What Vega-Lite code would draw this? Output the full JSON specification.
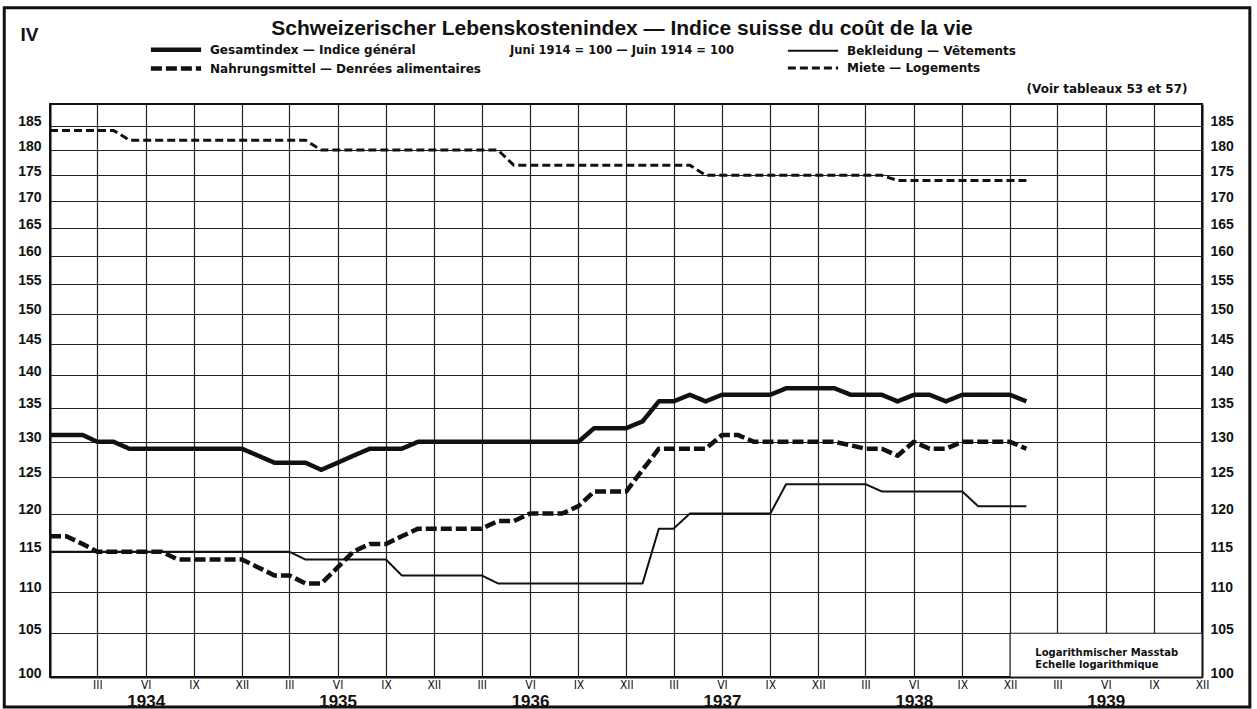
{
  "$schema": "https://vega.github.io/schema/vega-lite/v6.json",
  "width": 1152,
  "height": 573,
  "autosize": {"type": "none"},
  "padding": {"left": 50, "top": 104, "right": 55, "bottom": 32},
  "background": "white",
  "title": {
    "text": "Schweizerischer Lebenskostenindex — Indice suisse du coût de la vie",
    "subtitle": "Juni 1914 = 100 — Juin 1914 = 100\u00a0\u00a0\u00a0\u00a0\u00a0\u00a0",
    "anchor": "middle",
    "frame": "group",
    "orient": "top",
    "offset": -50,
    "dx": -4,
    "font": "Liberation Sans",
    "fontSize": 21,
    "fontWeight": "bold",
    "color": "#111",
    "subtitleFont": "DejaVu Sans",
    "subtitleFontSize": 11.5,
    "subtitleFontWeight": "bold",
    "subtitleColor": "#111",
    "subtitlePadding": 6
  },
  "config": {
    "view": {"stroke": "#111", "strokeWidth": 2},
    "axis": {"labelColor": "#111", "titleColor": "#111"}
  },
  "data": {
    "values": [
      {"date": "1933-12-01", "G": 131, "N": 117, "B": 115, "M": 184},
      {"date": "1934-01-01", "G": 131, "N": 117, "B": 115, "M": 184},
      {"date": "1934-02-01", "G": 131, "N": 116, "B": 115, "M": 184},
      {"date": "1934-03-01", "G": 130, "N": 115, "B": 115, "M": 184},
      {"date": "1934-04-01", "G": 130, "N": 115, "B": 115, "M": 184},
      {"date": "1934-05-01", "G": 129, "N": 115, "B": 115, "M": 182},
      {"date": "1934-06-01", "G": 129, "N": 115, "B": 115, "M": 182},
      {"date": "1934-07-01", "G": 129, "N": 115, "B": 115, "M": 182},
      {"date": "1934-08-01", "G": 129, "N": 114, "B": 115, "M": 182},
      {"date": "1934-09-01", "G": 129, "N": 114, "B": 115, "M": 182},
      {"date": "1934-10-01", "G": 129, "N": 114, "B": 115, "M": 182},
      {"date": "1934-11-01", "G": 129, "N": 114, "B": 115, "M": 182},
      {"date": "1934-12-01", "G": 129, "N": 114, "B": 115, "M": 182},
      {"date": "1935-01-01", "G": 128, "N": 113, "B": 115, "M": 182},
      {"date": "1935-02-01", "G": 127, "N": 112, "B": 115, "M": 182},
      {"date": "1935-03-01", "G": 127, "N": 112, "B": 115, "M": 182},
      {"date": "1935-04-01", "G": 127, "N": 111, "B": 114, "M": 182},
      {"date": "1935-05-01", "G": 126, "N": 111, "B": 114, "M": 180},
      {"date": "1935-06-01", "G": 127, "N": 113, "B": 114, "M": 180},
      {"date": "1935-07-01", "G": 128, "N": 115, "B": 114, "M": 180},
      {"date": "1935-08-01", "G": 129, "N": 116, "B": 114, "M": 180},
      {"date": "1935-09-01", "G": 129, "N": 116, "B": 114, "M": 180},
      {"date": "1935-10-01", "G": 129, "N": 117, "B": 112, "M": 180},
      {"date": "1935-11-01", "G": 130, "N": 118, "B": 112, "M": 180},
      {"date": "1935-12-01", "G": 130, "N": 118, "B": 112, "M": 180},
      {"date": "1936-01-01", "G": 130, "N": 118, "B": 112, "M": 180},
      {"date": "1936-02-01", "G": 130, "N": 118, "B": 112, "M": 180},
      {"date": "1936-03-01", "G": 130, "N": 118, "B": 112, "M": 180},
      {"date": "1936-04-01", "G": 130, "N": 119, "B": 111, "M": 180},
      {"date": "1936-05-01", "G": 130, "N": 119, "B": 111, "M": 177},
      {"date": "1936-06-01", "G": 130, "N": 120, "B": 111, "M": 177},
      {"date": "1936-07-01", "G": 130, "N": 120, "B": 111, "M": 177},
      {"date": "1936-08-01", "G": 130, "N": 120, "B": 111, "M": 177},
      {"date": "1936-09-01", "G": 130, "N": 121, "B": 111, "M": 177},
      {"date": "1936-10-01", "G": 132, "N": 123, "B": 111, "M": 177},
      {"date": "1936-11-01", "G": 132, "N": 123, "B": 111, "M": 177},
      {"date": "1936-12-01", "G": 132, "N": 123, "B": 111, "M": 177},
      {"date": "1937-01-01", "G": 133, "N": 126, "B": 111, "M": 177},
      {"date": "1937-02-01", "G": 136, "N": 129, "B": 118, "M": 177},
      {"date": "1937-03-01", "G": 136, "N": 129, "B": 118, "M": 177},
      {"date": "1937-04-01", "G": 137, "N": 129, "B": 120, "M": 177},
      {"date": "1937-05-01", "G": 136, "N": 129, "B": 120, "M": 175},
      {"date": "1937-06-01", "G": 137, "N": 131, "B": 120, "M": 175},
      {"date": "1937-07-01", "G": 137, "N": 131, "B": 120, "M": 175},
      {"date": "1937-08-01", "G": 137, "N": 130, "B": 120, "M": 175},
      {"date": "1937-09-01", "G": 137, "N": 130, "B": 120, "M": 175},
      {"date": "1937-10-01", "G": 138, "N": 130, "B": 124, "M": 175},
      {"date": "1937-11-01", "G": 138, "N": 130, "B": 124, "M": 175},
      {"date": "1937-12-01", "G": 138, "N": 130, "B": 124, "M": 175},
      {"date": "1938-01-01", "G": 138, "N": 130, "B": 124, "M": 175},
      {"date": "1938-02-01", "G": 137, "N": 129.5, "B": 124, "M": 175},
      {"date": "1938-03-01", "G": 137, "N": 129, "B": 124, "M": 175},
      {"date": "1938-04-01", "G": 137, "N": 129, "B": 123, "M": 175},
      {"date": "1938-05-01", "G": 136, "N": 128, "B": 123, "M": 174},
      {"date": "1938-06-01", "G": 137, "N": 130, "B": 123, "M": 174},
      {"date": "1938-07-01", "G": 137, "N": 129, "B": 123, "M": 174},
      {"date": "1938-08-01", "G": 136, "N": 129, "B": 123, "M": 174},
      {"date": "1938-09-01", "G": 137, "N": 130, "B": 123, "M": 174},
      {"date": "1938-10-01", "G": 137, "N": 130, "B": 121, "M": 174},
      {"date": "1938-11-01", "G": 137, "N": 130, "B": 121, "M": 174},
      {"date": "1938-12-01", "G": 137, "N": 130, "B": 121, "M": 174},
      {"date": "1939-01-01", "G": 136, "N": 129, "B": 121, "M": 174}
    ]
  },
  "layer": [
    {
      "data": {"values": [{}]},
      "mark": {"type": "rect", "fill": "white", "stroke": "#222", "strokeWidth": 1.2},
      "encoding": {
        "x": {
          "datum": {"year": 1938, "month": 12, "date": 1, "utc": true},
          "type": "temporal",
          "scale": {"type": "utc", "domain": [{"year": 1933, "month": 12, "date": 1, "utc": true}, {"year": 1939, "month": 12, "date": 1, "utc": true}]},
          "axis": {
            "orient": "bottom",
            "title": null,
            "values": [
              {"year": 1934, "month": 6, "date": 1, "utc": true},
              {"year": 1935, "month": 6, "date": 1, "utc": true},
              {"year": 1936, "month": 6, "date": 1, "utc": true},
              {"year": 1937, "month": 6, "date": 1, "utc": true},
              {"year": 1938, "month": 6, "date": 1, "utc": true},
              {"year": 1939, "month": 6, "date": 1, "utc": true}
            ],
            "labelExpr": "'' + utcyear(datum.value)",
            "grid": false,
            "ticks": false,
            "domain": false,
            "labelFont": "Liberation Sans",
            "labelFontSize": 17,
            "labelFontWeight": "bold",
            "labelBaseline": "top",
            "labelPadding": 16,
            "labelFlush": false,
            "labelOverlap": false
          }
        },
        "x2": {"datum": {"year": 1939, "month": 12, "date": 1, "utc": true}},
        "y": {
          "datum": 100,
          "type": "quantitative",
          "scale": {"type": "log", "domain": [100, 189.5], "nice": false, "zero": false},
          "axis": {
            "orient": "right",
            "title": null,
            "values": [100, 105, 110, 115, 120, 125, 130, 135, 140, 145, 150, 155, 160, 165, 170, 175, 180, 185],
            "format": "d",
            "grid": false,
            "ticks": false,
            "domain": true,
            "domainColor": "#111",
            "domainWidth": 2,
            "labelFont": "Liberation Sans",
            "labelFontSize": 14,
            "labelFontWeight": "bold",
            "labelPadding": 8,
            "labelOffset": -4,
            "labelBaseline": "middle",
            "labelOverlap": false
          }
        },
        "y2": {"datum": 105}
      }
    },
    {
      "transform": [
        {"fold": ["G", "N", "B", "M"], "as": ["key", "value"]},
        {
          "lookup": "key",
          "from": {
            "data": {
              "values": [
                {"k": "G", "name": "Gesamtindex — Indice général"},
                {"k": "N", "name": "Nahrungsmittel — Denrées alimentaires"},
                {"k": "B", "name": "Bekleidung — Vêtements"},
                {"k": "M", "name": "Miete — Logements"}
              ]
            },
            "key": "k",
            "fields": ["name"]
          }
        }
      ],
      "mark": {"type": "line", "color": "#111", "strokeJoin": "round", "strokeCap": "butt"},
      "encoding": {
        "x": {
          "field": "date",
          "type": "temporal",
          "scale": {"type": "utc", "domain": [{"year": 1933, "month": 12, "date": 1, "utc": true}, {"year": 1939, "month": 12, "date": 1, "utc": true}]},
          "axis": {
            "orient": "bottom",
            "title": null,
            "values": [
              {"year": 1933, "month": 12, "date": 1, "utc": true},
              {"year": 1934, "month": 3, "date": 1, "utc": true},
              {"year": 1934, "month": 6, "date": 1, "utc": true},
              {"year": 1934, "month": 9, "date": 1, "utc": true},
              {"year": 1934, "month": 12, "date": 1, "utc": true},
              {"year": 1935, "month": 3, "date": 1, "utc": true},
              {"year": 1935, "month": 6, "date": 1, "utc": true},
              {"year": 1935, "month": 9, "date": 1, "utc": true},
              {"year": 1935, "month": 12, "date": 1, "utc": true},
              {"year": 1936, "month": 3, "date": 1, "utc": true},
              {"year": 1936, "month": 6, "date": 1, "utc": true},
              {"year": 1936, "month": 9, "date": 1, "utc": true},
              {"year": 1936, "month": 12, "date": 1, "utc": true},
              {"year": 1937, "month": 3, "date": 1, "utc": true},
              {"year": 1937, "month": 6, "date": 1, "utc": true},
              {"year": 1937, "month": 9, "date": 1, "utc": true},
              {"year": 1937, "month": 12, "date": 1, "utc": true},
              {"year": 1938, "month": 3, "date": 1, "utc": true},
              {"year": 1938, "month": 6, "date": 1, "utc": true},
              {"year": 1938, "month": 9, "date": 1, "utc": true},
              {"year": 1938, "month": 12, "date": 1, "utc": true},
              {"year": 1939, "month": 3, "date": 1, "utc": true},
              {"year": 1939, "month": 6, "date": 1, "utc": true},
              {"year": 1939, "month": 9, "date": 1, "utc": true},
              {"year": 1939, "month": 12, "date": 1, "utc": true}
            ],
            "labelExpr": "utcmonth(datum.value) == 2 ? 'III' : utcmonth(datum.value) == 5 ? 'VI' : utcmonth(datum.value) == 8 ? 'IX' : (utcyear(datum.value) > 1933 ? 'XII' : '')",
            "grid": true,
            "gridColor": "#222",
            "gridWidth": 1.2,
            "ticks": false,
            "domain": true,
            "domainColor": "#111",
            "domainWidth": 2,
            "labelFont": "Liberation Sans Narrow, DejaVu Sans Condensed, sans-serif",
            "labelFontSize": 12,
            "labelBaseline": "top",
            "labelPadding": 2,
            "labelFlush": false,
            "labelOverlap": false
          }
        },
        "y": {
          "field": "value",
          "type": "quantitative",
          "scale": {"type": "log", "domain": [100, 189.5], "nice": false, "zero": false},
          "axis": {
            "orient": "left",
            "title": "IV",
            "titleAngle": 0,
            "titleX": -30,
            "titleY": -64,
            "titleAlign": "left",
            "titleBaseline": "alphabetic",
            "titleFont": "Liberation Sans",
            "titleFontSize": 19,
            "titleFontWeight": "bold",
            "values": [100, 105, 110, 115, 120, 125, 130, 135, 140, 145, 150, 155, 160, 165, 170, 175, 180, 185],
            "format": "d",
            "grid": true,
            "gridColor": "#222",
            "gridWidth": 1.2,
            "ticks": false,
            "domain": true,
            "domainColor": "#111",
            "domainWidth": 2,
            "labelFont": "Liberation Sans",
            "labelFontSize": 14,
            "labelFontWeight": "bold",
            "labelPadding": 9,
            "labelOffset": -4,
            "labelBaseline": "middle",
            "labelOverlap": false
          }
        },
        "strokeDash": {
          "field": "name",
          "type": "nominal",
          "scale": {
            "domain": ["Gesamtindex — Indice général", "Nahrungsmittel — Denrées alimentaires", "Bekleidung — Vêtements", "Miete — Logements"],
            "range": [[1, 0], [11, 4], [1, 0], [8, 4]]
          },
          "legend": {
            "orient": "none",
            "legendX": 117.5,
            "legendY": -63,
            "columns": 2,
            "columnPadding": 300,
            "rowPadding": 0,
            "padding": 0,
            "title": null,
            "symbolType": "M-4.1,0H4.1",
            "symbolSize": 150,
            "symbolStrokeColor": "#111",
            "symbolFillColor": "transparent",
            "labelFont": "DejaVu Sans",
            "labelFontSize": 12,
            "labelFontWeight": "bold",
            "labelColor": "#111",
            "labelOffset": 25.5,
            "labelLimit": 400
          }
        },
        "strokeWidth": {
          "field": "name",
          "type": "nominal",
          "scale": {
            "type": "ordinal",
            "domain": ["Gesamtindex — Indice général", "Nahrungsmittel — Denrées alimentaires", "Bekleidung — Vêtements", "Miete — Logements"],
            "range": [4.5, 4.5, 2, 3]
          },
          "legend": {
            "orient": "none",
            "legendX": 117.5,
            "legendY": -63,
            "columns": 2,
            "columnPadding": 300,
            "rowPadding": 0,
            "padding": 0,
            "title": null,
            "symbolType": "M-4.1,0H4.1",
            "symbolSize": 150,
            "symbolStrokeColor": "#111",
            "symbolFillColor": "transparent",
            "labelFont": "DejaVu Sans",
            "labelFontSize": 12,
            "labelFontWeight": "bold",
            "labelColor": "#111",
            "labelOffset": 25.5,
            "labelLimit": 400
          }
        }
      }
    },
    {
      "data": {"values": [{}]},
      "mark": {"type": "text", "align": "left", "baseline": "middle", "font": "DejaVu Sans", "fontSize": 10, "fontWeight": "bold", "lineHeight": 12, "color": "#111"},
      "encoding": {
        "x": {
          "datum": {"year": 1939, "month": 1, "date": 18, "utc": true},
          "type": "temporal",
          "scale": {"type": "utc", "domain": [{"year": 1933, "month": 12, "date": 1, "utc": true}, {"year": 1939, "month": 12, "date": 1, "utc": true}]},
          "axis": null
        },
        "y": {
          "datum": 102.7,
          "type": "quantitative",
          "scale": {"type": "log", "domain": [100, 189.5], "nice": false, "zero": false},
          "axis": null
        },
        "text": {"value": ["Logarithmischer Masstab", "Echelle logarithmique"]}
      }
    },
    {
      "data": {"values": [{}]},
      "mark": {"type": "rect", "fillOpacity": 0, "stroke": "#111", "strokeWidth": 3, "clip": false},
      "encoding": {
        "x": {
          "datum": {"year": 1933, "month": 9, "date": 5, "utc": true},
          "type": "temporal",
          "scale": {"type": "utc", "domain": [{"year": 1933, "month": 12, "date": 1, "utc": true}, {"year": 1939, "month": 12, "date": 1, "utc": true}]},
          "axis": {
            "orient": "top",
            "title": "(Voir tableaux 53 et 57)",
            "titleX": 1137,
            "titleY": -12,
            "titleAlign": "right",
            "titleBaseline": "alphabetic",
            "titleAnchor": null,
            "titleFont": "DejaVu Sans",
            "titleFontSize": 12,
            "titleFontWeight": "bold",
            "labels": false,
            "ticks": false,
            "domain": false,
            "grid": false
          }
        },
        "x2": {"datum": {"year": 1940, "month": 3, "date": 1, "utc": true}},
        "y": {
          "datum": 211,
          "type": "quantitative",
          "scale": {"type": "log", "domain": [100, 189.5], "nice": false, "zero": false},
          "axis": null
        },
        "y2": {"datum": 96.7}
      }
    }
  ],
  "resolve": {"axis": {"x": "independent", "y": "independent"}}
}
